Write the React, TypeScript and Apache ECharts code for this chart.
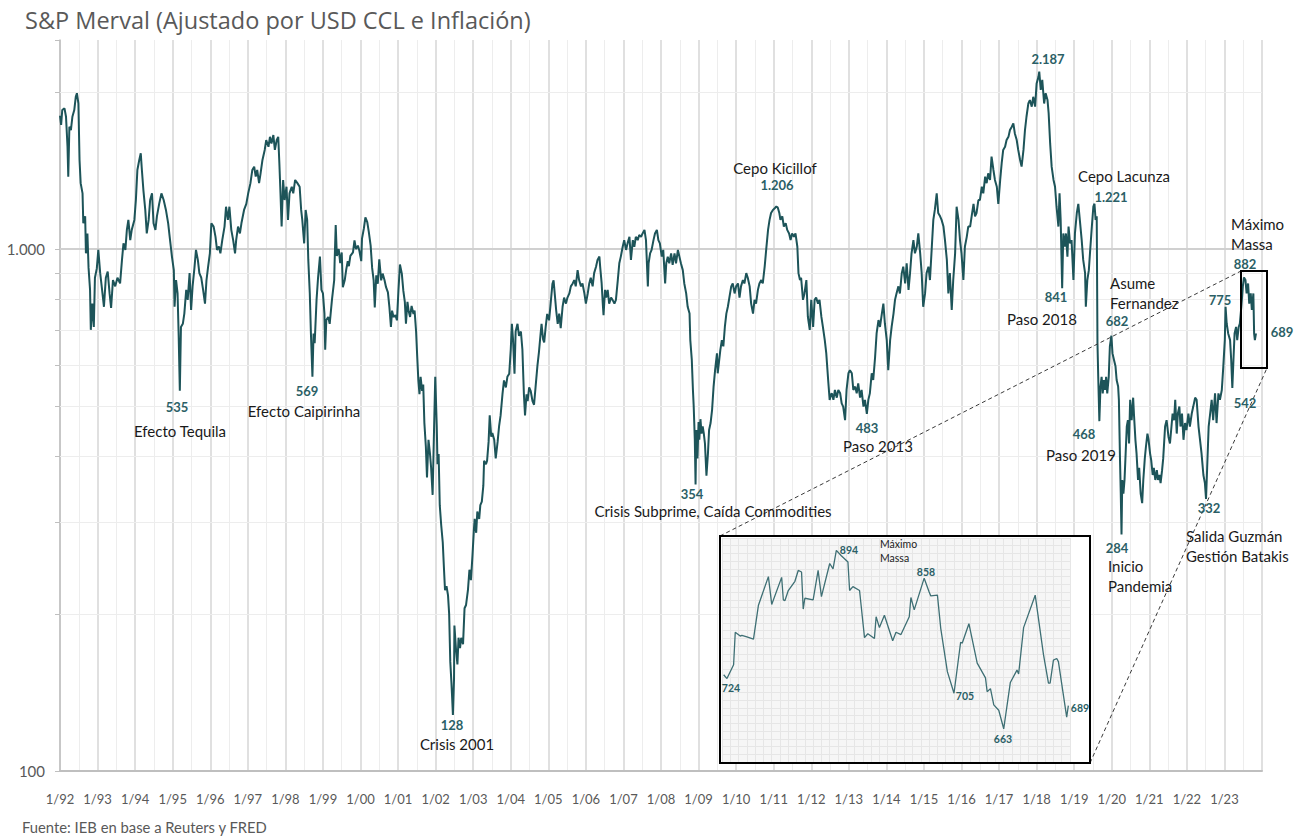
import React, { useEffect, useRef } from 'react';
import * as echarts from 'echarts';

// S&P Merval adjusted by CCL and inflation — [year, value]
const era1992: [number, number][] = [
  [1992.00,1800],[1992.03,1728],[1992.06,1846],[1992.12,1860],[1992.16,1792],[1992.20,1570],[1992.22,1376],[1992.25,1715],
  [1992.29,1690],[1992.33,1792],[1992.38,1846],[1992.42,1957],[1992.45,1988],[1992.49,1900],[1992.52,1481],[1992.55,1337],
  [1992.60,1278],[1992.62,1120],[1992.67,1155],[1992.69,981],[1992.73,1071],[1992.76,921],[1992.80,835],[1992.82,700],
  [1992.86,786],[1992.90,709],[1992.93,881],[1992.98,918],
  [1993.02,996],[1993.07,899],[1993.11,848],[1993.17,775],[1993.22,881],[1993.27,905],[1993.32,822],[1993.36,771],
  [1993.41,872],[1993.47,848],[1993.53,881],[1993.60,859],[1993.65,953],[1993.69,1025],[1993.74,996],[1993.78,1088],
  [1993.82,1137],[1993.87,1040],[1993.91,1088],[1993.98,1137],
  [1994.02,1241],[1994.06,1417],[1994.11,1481],[1994.15,1525],[1994.18,1417],[1994.22,1297],[1994.27,1188],[1994.31,1071],
  [1994.36,1137],[1994.40,1241],[1994.45,1278],[1994.49,1120],[1994.54,1088],[1994.58,1155],[1994.64,1220],[1994.70,1278],
  [1994.76,1241],[1994.82,1188],[1994.88,1120],[1994.92,1055],[1994.98,967],
  [1995.03,911],[1995.05,775],[1995.09,872],[1995.13,822],[1995.16,679],[1995.19,535],[1995.22,709],[1995.27,719],
  [1995.31,752],[1995.36,835],[1995.40,799],[1995.45,899],[1995.49,764],[1995.53,848],[1995.58,921],[1995.62,996],
  [1995.67,953],[1995.71,899],[1995.76,881],[1995.81,835],[1995.86,786],[1995.90,872],[1995.94,921],[1995.99,981],
];

const era1996: [number, number][] = [
  [1996.03,1120],[1996.09,1104],[1996.14,1055],[1996.18,996],[1996.23,1011],[1996.27,981],[1996.32,1040],[1996.38,1104],
  [1996.42,1205],[1996.47,1137],[1996.51,1205],[1996.56,1088],[1996.61,1040],[1996.66,981],[1996.69,1040],[1996.74,1104],
  [1996.79,1071],[1996.83,1120],[1996.90,1188],[1996.96,1220],
  [1997.01,1278],[1997.07,1337],[1997.12,1417],[1997.17,1438],[1997.21,1376],[1997.25,1417],[1997.30,1337],[1997.34,1396],
  [1997.39,1481],[1997.45,1548],[1997.49,1617],[1997.55,1570],[1997.59,1640],[1997.63,1593],[1997.68,1653],[1997.72,1548],
  [1997.77,1617],[1997.81,1640],[1997.84,1460],[1997.87,1278],[1997.90,1104],[1997.94,1356],[1997.98,1241],
  [1998.03,1316],[1998.07,1137],[1998.11,1278],[1998.17,1316],[1998.21,1278],[1998.26,1356],[1998.32,1337],[1998.38,1316],
  [1998.42,1188],[1998.45,1137],[1998.50,1025],[1998.54,1188],[1998.58,1137],[1998.61,953],[1998.65,822],[1998.68,689],
  [1998.72,569],[1998.75,689],[1998.78,660],[1998.83,799],[1998.87,881],[1998.92,967],[1998.96,835],
  [1999.00,822],[1999.04,752],[1999.06,641],[1999.09,731],[1999.14,741],[1999.18,719],[1999.24,799],[1999.30,872],
];

const era1999: [number, number][] = [
  [1999.31,940],[1999.34,1112],[1999.37,970],[1999.42,1000],[1999.46,940],[1999.50,985],[1999.53,845],[1999.58,871],
  [1999.62,913],[1999.66,948],[1999.69,927],[1999.73,970],[1999.80,985],[1999.84,1039],[1999.88,1000],[1999.93,1015],
  [1999.97,992],
  [2000.02,948],[2000.04,1047],[2000.09,1095],[2000.13,1150],[2000.18,1126],[2000.22,1080],[2000.27,1015],[2000.31,920],
  [2000.35,871],[2000.38,773],[2000.42,890],[2000.46,858],[2000.50,955],[2000.55,871],[2000.59,897],[2000.64,871],
  [2000.68,845],[2000.73,826],[2000.77,773],[2000.81,709],[2000.84,762],[2000.88,741],[2000.93,747],[2000.97,730],
  [2001.01,832],[2001.05,934],[2001.10,897],[2001.14,832],[2001.18,792],[2001.21,719],[2001.25,792],[2001.28,762],
  [2001.32,741],[2001.36,778],[2001.41,751],[2001.44,762],[2001.48,695],[2001.51,622],[2001.54,560],[2001.57,527],
  [2001.60,569],[2001.64,535],[2001.67,550],[2001.70,465],[2001.74,418],[2001.77,365],[2001.81,431],[2001.85,405],
  [2001.88,381],[2001.92,338],[2001.96,458],[2001.99,569],
  [2002.03,458],[2002.05,387],[2002.08,405],[2002.11,323],[2002.15,295],[2002.19,274],[2002.22,246],[2002.25,222],
  [2002.29,226],[2002.33,217],[2002.36,200],[2002.39,162],[2002.42,148],[2002.44,138],[2002.46,128],[2002.49,150],
  [2002.50,190],[2002.54,172],[2002.58,160],[2002.61,180],[2002.65,172],[2002.68,180],[2002.73,175],[2002.77,205],
  [2002.81,208],[2002.86,222],[2002.90,243],[2002.94,232],[2002.98,258],
  [2003.02,291],[2003.04,304],[2003.08,286],[2003.11,314],[2003.16,304],[2003.19,323],[2003.23,328],[2003.27,352],
  [2003.29,393],[2003.34,387],[2003.37,393],[2003.41,427],[2003.44,480],[2003.48,437],[2003.51,444],[2003.56,431],
  [2003.60,397],[2003.65,427],[2003.69,458],[2003.73,480],[2003.78,527],[2003.82,560],[2003.87,543],[2003.91,569],
  [2003.96,577],
  [2004.00,642],[2004.03,719],[2004.06,672],[2004.10,577],[2004.13,695],[2004.18,719],[2004.22,682],[2004.27,695],
  [2004.31,642],[2004.35,527],[2004.38,480],[2004.42,527],[2004.45,511],[2004.49,543],[2004.53,535],[2004.58,511],
  [2004.62,503],[2004.66,543],[2004.71,597],[2004.75,634],[2004.80,695],[2004.82,719],[2004.86,672],[2004.89,662],
  [2004.93,709],[2004.97,751],
  [2005.02,730],[2005.06,783],[2005.11,858],[2005.14,871],[2005.18,807],[2005.21,762],[2005.25,719],
];

const era2005: [number, number][] = [
  [2005.29,752],[2005.33,705],[2005.38,775],[2005.42,807],[2005.47,786],[2005.51,807],[2005.56,822],[2005.60,848],
  [2005.65,859],[2005.69,872],[2005.73,848],[2005.78,911],[2005.82,872],[2005.87,848],[2005.91,859],[2005.96,822],
  [2006.00,786],[2006.05,822],[2006.09,859],[2006.13,881],[2006.18,848],[2006.22,899],[2006.27,925],[2006.31,953],
  [2006.36,967],[2006.38,925],[2006.42,859],[2006.45,786],[2006.47,747],[2006.51,835],[2006.54,807],[2006.58,835],
  [2006.62,786],[2006.67,807],[2006.71,799],[2006.76,786],[2006.80,799],[2006.85,872],[2006.89,939],[2006.93,967],
  [2006.98,1010],
  [2007.02,1040],[2007.07,996],[2007.11,1025],[2007.16,1055],[2007.20,953],[2007.25,1040],[2007.29,1010],[2007.33,1055],
  [2007.38,1040],[2007.42,1064],[2007.47,1055],[2007.51,1071],[2007.56,1088],[2007.60,1040],[2007.65,848],[2007.67,939],
  [2007.71,981],[2007.75,996],[2007.80,1040],[2007.84,1071],[2007.89,1088],[2007.93,1040],[2007.97,1025],
  [2008.02,967],[2008.06,996],[2008.11,859],[2008.14,939],[2008.18,967],[2008.22,939],[2008.27,981],[2008.31,932],
  [2008.36,981],[2008.40,939],[2008.45,996],[2008.49,967],[2008.53,939],[2008.58,911],[2008.62,859],[2008.67,822],
  [2008.71,775],[2008.76,752],[2008.78,669],[2008.82,613],[2008.85,537],[2008.87,501],[2008.90,431],[2008.92,354],
  [2008.94,450],[2008.97,397],
  [2009.00,466],[2009.02,431],[2009.05,472],[2009.08,443],[2009.11,457],[2009.14,443],[2009.17,424],[2009.21,368],
  [2009.25,406],[2009.28,450],[2009.32,464],[2009.36,492],[2009.40,545],[2009.44,586],[2009.49,631],[2009.51,578],
  [2009.55,613],[2009.58,641],[2009.62,669],[2009.66,651],[2009.70,709],[2009.74,752],[2009.78,775],[2009.82,807],
  [2009.87,848],[2009.91,859],[2009.96,822],
  [2010.00,848],[2010.05,859],[2010.09,807],[2010.13,848],[2010.18,872],[2010.22,859],[2010.27,899],[2010.31,881],
  [2010.36,848],[2010.40,786],[2010.45,752],[2010.49,799],[2010.53,786],[2010.58,835],[2010.62,859],[2010.67,872],
  [2010.71,859],[2010.76,925],[2010.80,996],[2010.85,1088],[2010.89,1137],[2010.93,1172],[2010.98,1188],
  [2011.02,1195],[2011.07,1206],[2011.11,1200],[2011.15,1172],[2011.18,1137],[2011.23,1155],[2011.27,1104],[2011.32,1120],
  [2011.36,1088],[2011.41,1071],[2011.45,1040],[2011.49,1071],[2011.54,1055],[2011.58,1071],[2011.63,1010],[2011.66,899],
  [2011.70,872],[2011.73,881],[2011.78,799],[2011.82,822],[2011.87,872],[2011.91,741],[2011.96,700],
  [2012.00,799],[2012.05,709],[2012.09,799],[2012.13,807],[2012.18,786],[2012.22,799],[2012.27,741],[2012.31,709],
  [2012.36,669],[2012.40,631],[2012.45,561],[2012.49,514],[2012.53,527],
];

const era2012: [number, number][] = [
  [2012.55,529],[2012.59,514],[2012.63,537],[2012.68,519],[2012.72,537],[2012.77,529],[2012.81,506],[2012.85,499],
  [2012.90,470],[2012.94,537],[2012.99,578],
  [2013.03,586],[2013.08,578],[2013.12,537],[2013.17,545],[2013.21,529],[2013.25,553],[2013.30,519],[2013.34,537],
  [2013.39,499],[2013.43,514],[2013.48,483],[2013.52,514],[2013.56,529],[2013.61,578],[2013.65,561],[2013.70,621],
  [2013.74,689],[2013.79,731],[2013.83,709],[2013.88,752],[2013.92,786],[2013.96,720],
  [2014.01,669],[2014.05,586],[2014.10,669],[2014.14,709],[2014.19,752],[2014.23,799],[2014.27,822],[2014.32,848],
  [2014.36,822],[2014.41,899],[2014.45,925],[2014.50,859],[2014.54,939],[2014.59,835],[2014.63,899],[2014.67,981],
  [2014.72,1040],[2014.76,981],[2014.81,1010],[2014.85,1071],[2014.90,981],[2014.94,899],[2014.98,775],
  [2015.03,822],[2015.07,899],[2015.12,925],[2015.16,872],[2015.21,1010],[2015.25,1137],[2015.29,1188],[2015.34,1278],
  [2015.38,1172],[2015.43,1155],[2015.47,1137],[2015.52,1104],[2015.56,1040],[2015.61,953],[2015.65,822],[2015.69,899],
  [2015.74,764],[2015.78,872],[2015.83,981],[2015.87,1205],[2015.92,1137],[2015.96,1040],
  [2016.00,981],[2016.05,872],[2016.09,1010],[2016.14,1055],[2016.18,1104],[2016.23,1104],[2016.27,1155],[2016.32,1220],
  [2016.36,1155],[2016.40,1172],[2016.45,1241],[2016.49,1241],[2016.54,1316],[2016.58,1278],[2016.63,1376],[2016.67,1337],
  [2016.71,1396],[2016.76,1356],[2016.80,1503],[2016.85,1417],[2016.89,1356],[2016.94,1316],[2016.98,1220],
  [2017.03,1356],[2017.07,1460],[2017.11,1548],[2017.16,1570],[2017.20,1617],[2017.25,1640],[2017.29,1690],[2017.34,1715],
  [2017.38,1741],[2017.42,1665],[2017.47,1617],[2017.51,1548],[2017.56,1481],[2017.60,1438],[2017.65,1548],[2017.69,1690],
  [2017.73,1792],[2017.78,1900],[2017.82,1929],[2017.87,1874],[2017.91,1957],[2017.96,1874],
  [2018.00,2076],[2018.05,2139],[2018.07,2187],[2018.11,2017],[2018.15,2109],[2018.20,1900],[2018.24,1988],[2018.29,1929],
  [2018.32,1820],[2018.36,1593],[2018.40,1438],[2018.45,1356],[2018.49,1316],[2018.53,1205],[2018.58,1104],[2018.61,1278],
  [2018.64,1137],[2018.68,841],[2018.71,1071],[2018.75,1010],[2018.78,1071],[2018.82,967],[2018.85,1104],[2018.89,1025],
  [2018.93,1040],[2018.98,872],
  [2019.02,1071],[2019.07,1172],[2019.11,1220],
];

const era2019: [number, number][] = [
  [2019.15,1137],[2019.20,1040],[2019.24,953],[2019.29,899],[2019.31,775],[2019.35,872],[2019.39,911],[2019.42,981],
  [2019.47,1104],[2019.51,1205],[2019.54,1221],[2019.57,1137],[2019.60,1155],[2019.62,660],[2019.64,569],[2019.67,468],
  [2019.70,545],[2019.73,569],[2019.76,529],[2019.79,561],[2019.82,537],[2019.85,569],[2019.88,529],[2019.92,569],
  [2019.95,651],[2019.99,682],
  [2020.02,631],[2020.06,613],[2020.10,596],[2020.13,561],[2020.17,545],[2020.19,514],[2020.22,394],[2020.24,340],
  [2020.26,284],[2020.28,361],[2020.31,340],[2020.34,361],[2020.37,406],[2020.40,457],[2020.43,470],[2020.46,424],
  [2020.49,514],[2020.53,470],[2020.57,519],[2020.59,484],[2020.63,431],[2020.66,406],[2020.70,361],[2020.73,381],
  [2020.77,340],[2020.81,326],[2020.84,361],[2020.88,397],[2020.91,418],[2020.95,443],[2020.98,431],
  [2021.02,406],[2021.05,394],[2021.09,369],[2021.12,381],[2021.16,361],[2021.20,377],[2021.23,361],[2021.27,369],
  [2021.30,356],[2021.34,377],[2021.37,397],[2021.42,457],[2021.46,470],[2021.51,437],[2021.55,424],[2021.59,457],
  [2021.62,484],[2021.66,470],[2021.69,514],[2021.73,443],[2021.76,484],[2021.80,499],[2021.83,457],[2021.87,484],
  [2021.91,431],[2021.95,464],[2021.99,450],
  [2022.04,484],[2022.08,457],[2022.13,484],[2022.17,499],[2022.22,519],[2022.26,514],[2022.31,457],[2022.35,431],
  [2022.39,406],[2022.44,369],[2022.48,356],[2022.51,332],[2022.54,381],[2022.58,457],[2022.62,484],[2022.66,514],
  [2022.70,470],[2022.75,529],[2022.79,464],[2022.84,529],[2022.88,514],[2022.93,537],[2022.97,596],
  [2023.01,669],[2023.03,775],[2023.06,720],[2023.10,689],[2023.15,669],[2023.18,613],[2023.21,542],[2023.24,613],
  [2023.27,689],[2023.31,709],[2023.34,669],[2023.38,709],[2023.41,720],[2023.45,775],[2023.49,848],[2023.52,882],
  [2023.56,872],[2023.59,822],[2023.63,859],[2023.66,786],[2023.70,822],[2023.73,764],[2023.77,822],[2023.79,689],
  [2023.81,669],[2023.84,689],
];

// Zoomed inset (recent months): trading-day index and value
const insetDays = [1,3,7,8,11,12,15,19,22,28,30,36,37,38,40,44,46,48,49,50,55,58,60,65,67,69,72,76,77,79,83,86,88,92,93,95,98,103,105,108,113,114,116,122,125,126,130,132,136,140,144,145,149,154,159,160,162,164,167,170,174,178,179,182,189,194,197,198,200,202,203,208,209];
const insetValues = [733,728,746,788,783,784,782,779,823,860,824,859,830,829,842,854,868,866,818,832,830,868,834,877,870,894,887,879,842,847,842,781,786,780,808,794,810,777,788,785,808,833,817,858,840,835,836,793,737,709,775,774,799,748,729,711,715,694,687,663,723,739,734,794,836,759,722,722,752,754,750,678,693];

const minorGridValues = [200, 300, 400, 500, 600, 700, 800, 900, 2000];
const yTickValues = [100, 200, 300, 400, 500, 600, 700, 800, 900, 1000, 2000, 2514];

const eventNotes = [
  { text: 'Efecto Tequila', x: 180, y: 431, align: 'center' },
  { text: 'Efecto Caipirinha', x: 304, y: 411, align: 'center' },
  { text: 'Crisis 2001', x: 457, y: 744, align: 'center' },
  { text: 'Crisis Subprime, Caída Commodities', x: 713, y: 511, align: 'center' },
  { text: 'Cepo Kicillof', x: 775, y: 168, align: 'center' },
  { text: 'Paso 2013', x: 878, y: 446, align: 'center' },
  { text: 'Paso 2018', x: 1042, y: 319, align: 'center' },
  { text: 'Cepo Lacunza', x: 1124, y: 176, align: 'center' },
  { text: 'Asume', x: 1110, y: 283, align: 'left' },
  { text: 'Fernandez', x: 1110, y: 303, align: 'left' },
  { text: 'Paso 2019', x: 1081, y: 455, align: 'center' },
  { text: 'Inicio', x: 1108, y: 566, align: 'left' },
  { text: 'Pandemia', x: 1108, y: 586, align: 'left' },
  { text: 'Salida Guzmán', x: 1186, y: 536, align: 'left' },
  { text: 'Gestión Batakis', x: 1186, y: 556, align: 'left' },
  { text: 'Máximo', x: 1231, y: 224, align: 'left' },
  { text: 'Massa', x: 1231, y: 244, align: 'left' },
];

const valueNotes = [
  { text: '535', x: 177, y: 407 }, { text: '569', x: 307, y: 391 }, { text: '128', x: 452, y: 725 },
  { text: '354', x: 692, y: 494 }, { text: '1.206', x: 777, y: 185 }, { text: '483', x: 867, y: 428 },
  { text: '2.187', x: 1048, y: 59 }, { text: '841', x: 1056, y: 297 }, { text: '1.221', x: 1111, y: 197 },
  { text: '682', x: 1117, y: 321 }, { text: '468', x: 1084, y: 434 }, { text: '284', x: 1117, y: 548 },
  { text: '332', x: 1209, y: 508 }, { text: '775', x: 1220, y: 300 }, { text: '542', x: 1245, y: 403 },
  { text: '882', x: 1245, y: 264 }, { text: '689', x: 1282, y: 332 },
];

const insetNotes = [
  { text: '724', x: 731, y: 688 }, { text: '894', x: 849, y: 550 }, { text: '858', x: 926, y: 572 },
  { text: '705', x: 965, y: 696 }, { text: '663', x: 1003, y: 739 }, { text: '689', x: 1080, y: 708 },
];

const FONT = 'Lato, "Open Sans", sans-serif';
const TITLE_FONT = '"Open Sans", Lato, sans-serif';
const TEAL = '#2b5f66';

export default function App() {
  const ref = useRef<HTMLDivElement>(null);
  useEffect(() => {
    document.body.style.margin = '0';
    const chart = echarts.init(ref.current!, null, { renderer: 'svg' });
    const mainData = [...era1992, ...era1996, ...era1999, ...era2005, ...era2012, ...era2019];
    const insetData = insetDays.map((d, i) => [d, insetValues[i]]);

    const graphics: any[] = [];
    graphics.push({ type: 'rect', z: 5, shape: { x: 720, y: 536, width: 370, height: 227 }, style: { fill: '#ffffff' } });
    graphics.push({ type: 'rect', z: 30, shape: { x: 720, y: 536, width: 370, height: 227 }, style: { fill: 'none', stroke: '#000', lineWidth: 2 } });
    graphics.push({ type: 'rect', z: 30, shape: { x: 1241, y: 271, width: 26, height: 97 }, style: { fill: 'none', stroke: '#000', lineWidth: 2 } });
    graphics.push({ type: 'line', z: 29, shape: { x1: 720, y1: 536, x2: 1241, y2: 271 }, style: { stroke: '#3a3a3a', lineWidth: 1, lineDash: [4, 3] } });
    graphics.push({ type: 'line', z: 29, shape: { x1: 1090, y1: 763, x2: 1267, y2: 368 }, style: { stroke: '#3a3a3a', lineWidth: 1, lineDash: [4, 3] } });
    eventNotes.forEach((n) => graphics.push({
      type: 'text', z: 31, x: n.x, y: n.y,
      style: { text: n.text, fill: '#1a1a1a', font: `15px ${FONT}`, align: n.align, verticalAlign: 'middle' },
    }));
    valueNotes.forEach((n) => graphics.push({
      type: 'text', z: 31, x: n.x, y: n.y,
      style: { text: n.text, fill: TEAL, font: `bold 13px ${FONT}`, align: 'center', verticalAlign: 'middle' },
    }));
    insetNotes.forEach((n) => graphics.push({
      type: 'text', z: 31, x: n.x, y: n.y,
      style: { text: n.text, fill: TEAL, font: `bold 10.5px ${FONT}`, align: 'center', verticalAlign: 'middle' },
    }));
    graphics.push({ type: 'text', z: 31, x: 880, y: 544, style: { text: 'Máximo', fill: '#222', font: `10.5px ${FONT}`, align: 'left', verticalAlign: 'middle' } });
    graphics.push({ type: 'text', z: 31, x: 880, y: 558, style: { text: 'Massa', fill: '#222', font: `10.5px ${FONT}`, align: 'left', verticalAlign: 'middle' } });
    graphics.push({ type: 'text', z: 31, x: 22, y: 827, style: { text: 'Fuente: IEB en base a Reuters y FRED', fill: '#595959', font: `14.8px ${FONT}`, align: 'left', verticalAlign: 'middle' } });

    const option: any = {
      animation: false,
      backgroundColor: '#ffffff',
      textStyle: { fontFamily: FONT },
      title: {
        text: 'S&P Merval (Ajustado por USD CCL e Inflación)',
        left: 20, top: 3,
        textStyle: { fontSize: 23.5, fontWeight: 'normal', color: '#595959', fontFamily: TITLE_FONT },
      },
      grid: [
        { left: 60, right: 46, top: 40, bottom: 66 },
        { left: 722, top: 538, width: 348, height: 224, show: true, backgroundColor: '#f6f6f6', borderWidth: 0, z: 6 },
      ],
      xAxis: [
        {
          type: 'value', gridIndex: 0, min: 1992, max: 2024, interval: 1,
          axisLine: { show: true, onZero: false, lineStyle: { color: '#bfbfbf', width: 2 } },
          axisTick: { show: false },
          minorTick: { show: false, splitNumber: 2 },
          splitLine: { show: true, lineStyle: { color: '#d6d6d6', width: 1.5 } },
          minorSplitLine: { show: true, lineStyle: { color: '#ededed', width: 1 } },
          axisLabel: {
            color: '#595959', fontSize: 13, margin: 21, fontFamily: FONT,
            formatter: (v: number) => (v > 2023.5 ? '' : `1/${String(Math.round(v) % 100).padStart(2, '0')}`),
          },
        },
        {
          type: 'value', gridIndex: 1, min: 0, max: 210, interval: 5, z: 7,
          axisLine: { show: false }, axisTick: { show: false }, axisLabel: { show: false },
          splitLine: { show: true, lineStyle: { color: '#e6e6e6', width: 1 } },
        },
      ],
      yAxis: [
        {
          type: 'log', logBase: 10, gridIndex: 0, min: 100, max: 2514,
          axisLine: { show: true, lineStyle: { color: '#bfbfbf', width: 1.5 } },
          axisTick: { show: true, length: 5, customValues: yTickValues, lineStyle: { color: '#bfbfbf' } },
          splitLine: { show: false },
          axisLabel: {
            color: '#595959', fontSize: 15, margin: 15, fontFamily: FONT,
            customValues: [100, 1000],
            formatter: (v: number) => {
              const r = Math.round(v);
              return r === 100 ? '100' : r === 1000 ? '1.000' : '';
            },
          },
        },
        {
          type: 'value', gridIndex: 1, min: 620, max: 910, interval: 10, z: 7,
          axisLine: { show: false }, axisTick: { show: false }, axisLabel: { show: false },
          splitLine: { show: true, lineStyle: { color: '#e6e6e6', width: 1 } },
        },
      ],
      series: [
        {
          type: 'line', xAxisIndex: 0, yAxisIndex: 0, z: 1, silent: true,
          data: [[1992, 1000]], symbol: 'none', lineStyle: { width: 0 },
          markLine: {
            silent: true, symbol: 'none', z: 1, label: { show: false }, animation: false,
            data: [
              ...minorGridValues.map((v) => ({ yAxis: v, lineStyle: { color: '#ededed', width: 1, type: 'solid' } })),
              { yAxis: 1000, lineStyle: { color: '#d0d0d0', width: 2, type: 'solid' } },
            ],
          },
        },
        {
          type: 'line', xAxisIndex: 0, yAxisIndex: 0, z: 3,
          data: mainData, showSymbol: false, symbol: 'none',
          lineStyle: { color: '#1d5459', width: 2 },
        },
        {
          type: 'line', xAxisIndex: 1, yAxisIndex: 1, z: 8,
          data: insetData, showSymbol: false, symbol: 'none',
          lineStyle: { color: '#3e6f74', width: 1.3 },
        },
      ],
      graphic: { elements: graphics },
    };
    chart.setOption(option);
    return () => chart.dispose();
  }, []);
  return <div ref={ref} style={{ position: 'absolute', left: 0, top: 0, width: 1308, height: 837, background: '#fff' }} />;
}
